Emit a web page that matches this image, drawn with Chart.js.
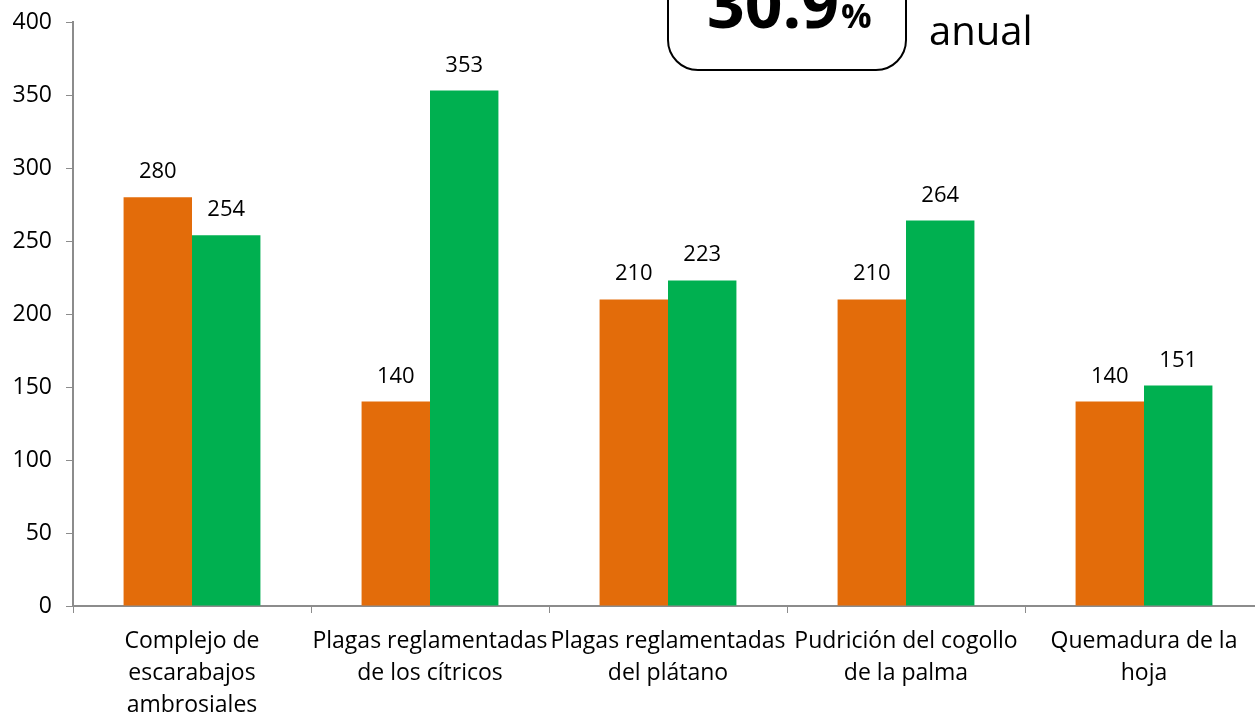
<!DOCTYPE html>
<html>
<head>
<meta charset="utf-8">
<script src="https://cdn.jsdelivr.net/npm/chart.js@4"></script>
<style>
  html, body { margin: 0; padding: 0; overflow: hidden; background: #fff; }
  #wrap { position: relative; width: 1263px; height: 722px; }
</style>
</head>
<body>
<div id="wrap"><canvas id="myChart"></canvas></div>
<script>
const categories = [
  ['Complejo de', 'escarabajos', 'ambrosiales'],
  ['Plagas reglamentadas', 'de los cítricos'],
  ['Plagas reglamentadas', 'del plátano'],
  ['Pudrición del cogollo', 'de la palma'],
  ['Quemadura de la', 'hoja']
];
const seriesA = [280, 140, 210, 210, 140];
const seriesB = [254, 353, 223, 264, 151];
const boxValue = '30.9';
const boxUnit = '%';
const boxNote = 'anual';

const FONT = "'Open Sans', 'Noto Sans', sans-serif";
const AXIS = '#8c8c8c';

// value labels above each bar
const barLabels = {
  id: 'barLabels',
  afterDatasetsDraw(chart) {
    const ctx = chart.ctx;
    ctx.save();
    ctx.font = '22px ' + FONT;
    ctx.fillStyle = '#000';
    ctx.textAlign = 'center';
    ctx.textBaseline = 'alphabetic';
    chart.data.datasets.forEach((ds, i) => {
      chart.getDatasetMeta(i).data.forEach((bar, j) => {
        ctx.fillText(ds.data[j], bar.x, bar.y - 19);
      });
    });
    ctx.restore();
  }
};

// rounded box with the annual figure
const growthBox = {
  id: 'growthBox',
  afterDraw(chart) {
    const ctx = chart.ctx;
    ctx.save();
    ctx.lineWidth = 2;
    ctx.strokeStyle = '#000';
    ctx.beginPath();
    ctx.roundRect(668, -60, 238, 130, 30);
    ctx.stroke();
    ctx.fillStyle = '#000';
    ctx.textBaseline = 'alphabetic';
    ctx.textAlign = 'left';
    ctx.font = 'bold 66px ' + FONT;
    ctx.fillText(boxValue, 707, 28);
    const w = ctx.measureText(boxValue).width;
    ctx.font = 'bold 34px ' + FONT;
    ctx.fillText(boxUnit, 707 + w + 2, 28);
    ctx.font = '40px ' + FONT;
    ctx.fillText(boxNote, 929, 45);
    ctx.restore();
  }
};

const ctx = document.getElementById('myChart').getContext('2d');
const chart = new Chart(ctx, {
  type: 'bar',
  data: {
    labels: categories,
    datasets: [
      { data: seriesA, backgroundColor: '#e36c0a' },
      { data: seriesB, backgroundColor: '#00b050' }
    ]
  },
  options: {
    responsive: true,
    maintainAspectRatio: false,
    animation: false,
    layout: { padding: { top: 22, right: 0, left: 0, bottom: 0 } },
    datasets: { bar: { categoryPercentage: 0.575, barPercentage: 1 } },
    plugins: { legend: { display: false }, tooltip: { enabled: false } },
    scales: {
      x: {
        grid: { display: true, drawOnChartArea: false, color: AXIS, tickLength: 7, offset: true },
        border: { color: AXIS, width: 2 },
        ticks: {
          color: '#000', maxRotation: 0, autoSkip: false, padding: 12,
          font: { family: FONT, size: 23, lineHeight: 1.4 }
        },
        afterFit(scale) { scale.height = 722 - 606; }
      },
      y: {
        min: 0, max: 400,
        grid: { display: true, drawOnChartArea: false, color: AXIS, tickLength: 7 },
        border: { color: AXIS, width: 2 },
        ticks: {
          stepSize: 50, color: '#000', padding: 14,
          font: { family: FONT, size: 23 }
        },
        afterFit(scale) {
          scale.width = 73;
          scale.paddingTop = 0;
          scale.paddingBottom = 0;
        }
      }
    }
  },
  plugins: [barLabels, growthBox]
});
</script>
</body>
</html>
